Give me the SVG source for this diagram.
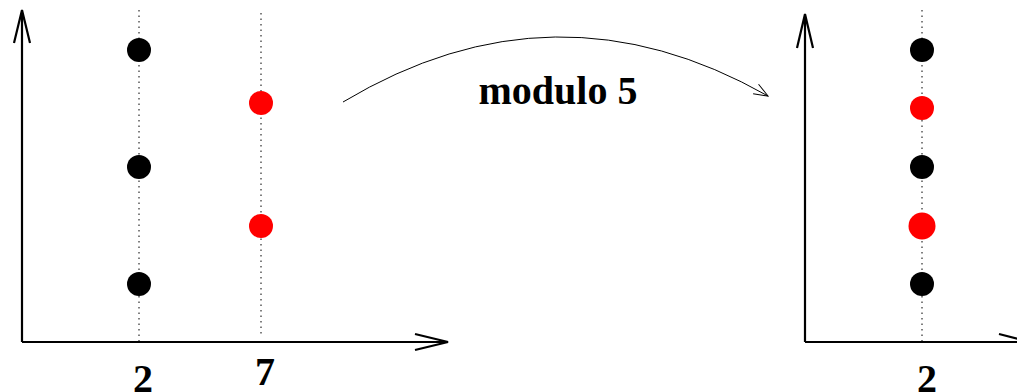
<svg xmlns="http://www.w3.org/2000/svg" width="1017" height="392" viewBox="0 0 1017 392">
  <style>
    .axis { stroke: #000; stroke-width: 2.2; fill: none; }
    .grid { stroke: #000; stroke-width: 1; stroke-dasharray: 1.5 4; fill: none; }
    .blk { fill: #000; }
    .red { fill: #ff0000; }
    .lbl { font-family: "Liberation Serif", "Times New Roman", serif; font-weight: bold; fill: #000; text-anchor: middle; }
  </style>
  <defs>
    <marker id="thin" markerWidth="16" markerHeight="12" refX="14" refY="6" orient="auto" markerUnits="userSpaceOnUse">
      <path d="M0,0.5 L14,6 L0,11.5" fill="none" stroke="#000" stroke-width="1"/>
    </marker>
  </defs>
  <rect width="1017" height="392" fill="#fff"/>

  <!-- left plot -->
  <g id="left-plot">
    <line class="grid" x1="139" y1="10" x2="139" y2="342"/>
    <line class="grid" x1="261" y1="13" x2="261" y2="335"/>
    <path class="axis" d="M22,342 V10 M14,43 L22,10 L30,43"/>
    <path class="axis" d="M22,342 H448 M415,334 L448,342 L415,350"/>
    <circle class="blk" cx="139" cy="50" r="12"/>
    <circle class="blk" cx="139" cy="167" r="12"/>
    <circle class="blk" cx="139" cy="284" r="12"/>
    <circle class="red" cx="261" cy="103" r="12"/>
    <circle class="red" cx="261" cy="226" r="12"/>
    <text class="lbl" x="143" y="392" font-size="40">2</text>
    <text class="lbl" x="265" y="385" font-size="40">7</text>
  </g>

  <!-- right plot -->
  <g id="right-plot">
    <line class="grid" x1="922" y1="10" x2="922" y2="342"/>
    <path class="axis" d="M805,342 V14 M797,48 L805,14 L813,48"/>
    <path class="axis" d="M805,342 H1030 M999,334 L1030,342"/>
    <circle class="blk" cx="922" cy="50" r="12"/>
    <circle class="red" cx="922" cy="108" r="12"/>
    <circle class="blk" cx="922" cy="167" r="12"/>
    <circle class="red" cx="922" cy="226" r="13.5"/>
    <circle class="blk" cx="922" cy="284" r="12"/>
    <text class="lbl" x="927" y="392" font-size="40">2</text>
  </g>

  <!-- mapping arrow -->
  <g id="connectors">
    <path d="M343,102 Q555,-25 768,96" fill="none" stroke="#000" stroke-width="1" marker-end="url(#thin)"/>
  </g>
  <g id="label">
    <text class="lbl" x="558" y="104" font-size="40">modulo 5</text>
  </g>
</svg>
